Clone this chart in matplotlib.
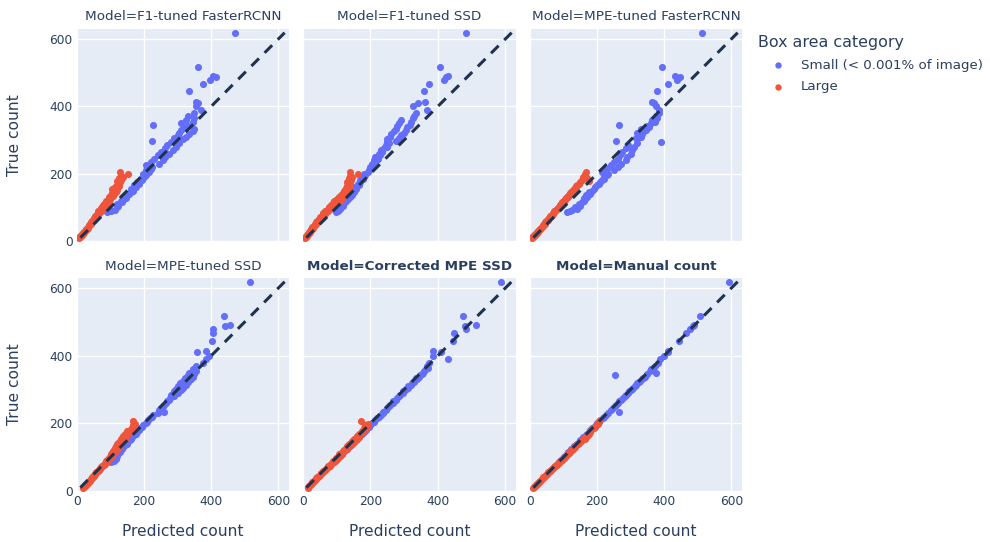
import matplotlib
matplotlib.use("Agg")
import matplotlib.pyplot as plt
from matplotlib.lines import Line2D

# ---------------- data ----------------
models = ["F1-tuned FasterRCNN", "F1-tuned SSD", "MPE-tuned FasterRCNN",
          "MPE-tuned SSD", "Corrected MPE SSD", "Manual count"]
bold_titles = [False, False, False, False, True, True]
categories = ["Small (< 0.001% of image)", "Large"]

true_large = [10, 12, 14, 16, 18, 20, 22, 24, 26, 28,
              30, 33, 35, 37, 40, 42, 45, 47, 50, 52,
              55, 58, 60, 63, 65, 68, 70, 73, 75, 78,
              80, 83, 85, 88, 90, 93, 95, 98, 100, 102,
              105, 108, 110, 112, 115, 118, 120, 122, 125, 128,
              130, 132, 135, 138, 140, 143, 145, 148, 150, 153,
              155, 158, 160, 163, 166, 170, 174, 178, 182, 186,
              190, 194, 198, 206]
true_small = [85, 88, 92, 96, 100, 105, 110, 115, 120, 124,
              128, 132, 136, 140, 145, 150, 155, 160, 165, 170,
              175, 180, 185, 190, 195, 200, 205, 210, 215, 220,
              225, 230, 235, 240, 245, 250, 255, 260, 265, 270,
              275, 280, 285, 290, 295, 298, 302, 306, 310, 314,
              318, 322, 326, 330, 334, 338, 342, 346, 350, 355,
              360, 365, 370, 380, 389, 400, 410, 414, 445, 466,
              478, 487, 490, 518, 619]

pred_large_f1_frcnn = [5, 8, 10, 12, 14, 15, 18, 19, 21, 22,
                       24, 26, 28, 30, 32, 33, 36, 37, 39, 42,
                       43, 46, 45, 50, 52, 50, 55, 58, 55, 62,
                       60, 65, 68, 64, 72, 70, 75, 72, 80, 76,
                       82, 78, 88, 84, 90, 86, 95, 92, 98, 94,
                       102, 96, 106, 100, 110, 104, 115, 108, 112, 118,
                       105, 120, 114, 125, 118, 122, 128, 120, 130, 125,
                       138, 132, 152, 128]
pred_small_f1_frcnn = [90, 100, 112, 95, 118, 122, 120, 135, 130, 140,
                       145, 138, 150, 155, 160, 168, 162, 175, 170, 185,
                       178, 195, 190, 200, 205, 198, 215, 205, 220, 225,
                       205, 245, 220, 255, 230, 262, 240, 275, 250, 285,
                       262, 295, 268, 305, 280, 225, 315, 290, 325, 300,
                       335, 305, 345, 310, 350, 320, 330, 228, 310, 345,
                       325, 350, 330, 350, 370, 355, 362, 356, 333, 377,
                       397, 413, 404, 360, 472]

pred_large_f1_ssd = [6, 8, 9, 11, 12, 14, 15, 17, 18, 20,
                     22, 24, 25, 27, 30, 28, 33, 35, 36, 40,
                     38, 44, 42, 48, 46, 52, 50, 56, 60, 58,
                     64, 60, 68, 66, 74, 70, 80, 76, 85, 78,
                     90, 82, 96, 88, 102, 92, 110, 98, 115, 104,
                     120, 108, 125, 112, 128, 118, 132, 122, 135, 125,
                     138, 128, 140, 130, 135, 140, 132, 138, 142, 136,
                     145, 140, 164, 140]
pred_small_f1_ssd = [98, 105, 100, 110, 108, 118, 120, 125, 128, 135,
                     132, 140, 145, 142, 150, 148, 158, 155, 165, 162,
                     170, 168, 178, 175, 185, 180, 192, 195, 200, 198,
                     210, 205, 215, 210, 222, 215, 228, 225, 235, 230,
                     240, 248, 245, 255, 250, 275, 250, 285, 258, 290,
                     262, 300, 270, 305, 275, 310, 280, 318, 285, 320,
                     290, 325, 330, 336, 367, 326, 341, 363, 359, 375,
                     417, 424, 430, 407, 483]

pred_large_mpe_frcnn = [6, 8, 10, 12, 14, 16, 18, 20, 21, 23,
                        25, 27, 29, 31, 33, 35, 38, 40, 42, 44,
                        46, 48, 50, 53, 55, 56, 60, 61, 64, 65,
                        68, 70, 72, 73, 76, 78, 80, 82, 85, 86,
                        88, 90, 93, 95, 96, 100, 101, 104, 105, 108,
                        110, 112, 114, 116, 118, 120, 123, 125, 128, 130,
                        132, 134, 136, 138, 140, 145, 148, 175, 155, 170,
                        158, 165, 163, 168]
pred_small_mpe_frcnn = [109, 119, 125, 140, 135, 148, 145, 155, 160, 165,
                        162, 170, 168, 178, 175, 185, 190, 195, 200, 205,
                        210, 215, 220, 222, 230, 232, 215, 250, 230, 262,
                        240, 270, 250, 285, 262, 290, 268, 300, 275, 305,
                        285, 310, 292, 318, 390, 257, 320, 315, 330, 325,
                        335, 318, 340, 345, 332, 355, 350, 265, 360, 372,
                        365, 380, 375, 385, 385, 375, 370, 365, 378, 411,
                        437, 448, 431, 394, 513]

pred_large_mpe_ssd = [18, 20, 22, 24, 26, 28, 30, 32, 34, 35,
                      38, 40, 42, 44, 46, 48, 50, 52, 55, 56,
                      58, 62, 63, 66, 68, 70, 72, 74, 76, 80,
                      82, 84, 88, 86, 92, 90, 96, 94, 102, 98,
                      104, 100, 108, 104, 112, 106, 115, 110, 118, 112,
                      124, 115, 128, 118, 132, 122, 135, 128, 140, 130,
                      142, 135, 145, 138, 150, 142, 155, 150, 160, 165,
                      170, 168, 172, 167]
pred_small_mpe_ssd = [100, 110, 105, 115, 112, 120, 118, 128, 125, 135,
                      132, 140, 138, 148, 150, 158, 160, 165, 170, 175,
                      178, 185, 188, 195, 198, 205, 208, 212, 218, 225,
                      228, 240, 258, 245, 250, 255, 258, 265, 268, 275,
                      278, 290, 280, 300, 290, 310, 295, 315, 302, 325,
                      308, 330, 315, 340, 322, 345, 330, 350, 335, 355,
                      345, 352, 355, 375, 385, 393, 358, 385, 401, 404,
                      406, 440, 457, 437, 516]

pred_large_corr_ssd = [14, 15, 17, 19, 20, 23, 24, 27, 28, 31,
                       32, 35, 38, 39, 43, 44, 48, 49, 53, 54,
                       58, 60, 63, 65, 68, 70, 73, 75, 79, 80,
                       84, 85, 89, 90, 94, 95, 100, 99, 105, 103,
                       110, 108, 115, 112, 120, 118, 125, 122, 130, 127,
                       135, 132, 140, 137, 145, 142, 150, 146, 155, 150,
                       160, 156, 165, 160, 170, 166, 178, 175, 184, 180,
                       190, 185, 192, 172]
pred_small_corr_ssd = [92, 96, 98, 102, 106, 110, 115, 120, 124, 130,
                       132, 138, 140, 146, 150, 156, 160, 166, 170, 176,
                       180, 186, 190, 196, 200, 205, 210, 214, 220, 226,
                       230, 236, 238, 246, 248, 256, 258, 266, 268, 276,
                       278, 286, 288, 296, 298, 304, 305, 312, 312, 320,
                       322, 328, 330, 338, 336, 345, 348, 352, 356, 360,
                       364, 370, 368, 375, 430, 385, 410, 387, 445, 447,
                       483, 480, 514, 476, 588]

pred_large_manual = [10, 12, 15, 16, 18, 21, 22, 24, 27, 28,
                     30, 34, 35, 38, 40, 43, 45, 48, 50, 53,
                     55, 59, 60, 64, 66, 70, 71, 74, 76, 80,
                     81, 85, 86, 90, 92, 95, 97, 100, 102, 105,
                     108, 110, 112, 115, 118, 120, 123, 125, 128, 130,
                     134, 135, 138, 140, 143, 146, 150, 152, 155, 158,
                     165, 162, 168, 170, 172, 175, 178, 180, 185, 190,
                     194, 198, 202, 205]
pred_small_manual = [86, 89, 93, 95, 101, 104, 111, 114, 121, 123,
                     129, 131, 137, 139, 146, 150, 156, 159, 166, 170,
                     176, 179, 186, 190, 196, 200, 206, 210, 218, 222,
                     226, 232, 265, 242, 246, 252, 256, 262, 266, 272,
                     276, 282, 286, 292, 296, 300, 305, 308, 312, 316,
                     320, 325, 328, 335, 336, 342, 252, 350, 375, 358,
                     362, 368, 372, 382, 388, 398, 410, 412, 445, 465,
                     478, 485, 490, 508, 594]

pred_small = [pred_small_f1_frcnn, pred_small_f1_ssd, pred_small_mpe_frcnn,
              pred_small_mpe_ssd, pred_small_corr_ssd, pred_small_manual]
pred_large = [pred_large_f1_frcnn, pred_large_f1_ssd, pred_large_mpe_frcnn,
              pred_large_mpe_ssd, pred_large_corr_ssd, pred_large_manual]

ticks = [0, 200, 400, 600]

# ---------------- style ----------------
W, H = 990, 542
BG = "#E5ECF6"
TXT = "#2a3f5f"
BLUE = "#636EFA"
RED = "#EF553B"
LINE = "#1f3350"

plt.rcParams["font.family"] = ["DejaVu Sans"]

fig = plt.figure(figsize=(W / 100, H / 100), dpi=100)

col_x = [(77, 289), (303, 516), (530, 742)]
row_y = [(29, 241), (278, 491)]


def rect(x0, y0, x1, y1):
    return [x0 / W, 1 - y1 / H, (x1 - x0) / W, (y1 - y0) / H]


lo = min(true_large + true_small)
hi = max(true_large + true_small)

for i, m in enumerate(models):
    r, c = divmod(i, 3)
    x0, x1 = col_x[c]
    y0, y1 = row_y[r]
    ax = fig.add_axes(rect(x0, y0, x1, y1))
    ax.set_facecolor(BG)
    for s in ax.spines.values():
        s.set_visible(False)
    ax.set_xlim(0, 632)
    ax.set_ylim(0, 630)
    ax.set_xticks(ticks)
    ax.set_yticks(ticks)
    ax.grid(True, color="white", linewidth=1.0)
    ax.set_axisbelow(True)
    ax.tick_params(length=0, colors=TXT, labelsize=8.8, pad=3)
    if c != 0:
        ax.set_yticklabels([])
    if r != 1:
        ax.set_xticklabels([])

    ax.scatter(pred_small[i], true_small, s=26, color=BLUE, linewidths=0, zorder=3)
    ax.scatter(pred_large[i], true_large, s=26, color=RED, linewidths=0, zorder=4)
    ax.plot([lo, hi], [lo, hi], color=LINE, linewidth=2.2, dashes=(3.5, 2.6), zorder=5,
            solid_capstyle="butt", dash_capstyle="butt")

    ty = 17 if r == 0 else 266
    fig.text((x0 + x1) / 2 / W, 1 - ty / H, f"Model={m}", ha="center", va="center",
             fontsize=9.7, color=TXT, fontweight="bold" if bold_titles[i] else "normal")

    if r == 1:
        fig.text((x0 + x1) / 2 / W, 1 - 531 / H, "Predicted count", ha="center", va="center",
                 fontsize=11.2, color=TXT)

for (y0, y1) in row_y:
    fig.text(15 / W, 1 - (y0 + y1) / 2 / H, "True count", ha="center", va="center",
             rotation=90, fontsize=11.2, color=TXT)

# legend
fig.text(758 / W, 1 - 43 / H, "Box area category", ha="left", va="center", fontsize=11.4, color=TXT)
for k, (lab, col) in enumerate(zip(categories, [BLUE, RED])):
    yy = 1 - (65 + 22 * k) / H
    fig.add_artist(Line2D([778 / W], [yy], marker="o", markersize=4.6, color=col,
                          markeredgewidth=0, linestyle="none", transform=fig.transFigure))
    fig.text(801 / W, yy, lab, ha="left", va="center", fontsize=9.6, color=TXT)

fig.savefig("out.png", dpi=100, facecolor="white")
